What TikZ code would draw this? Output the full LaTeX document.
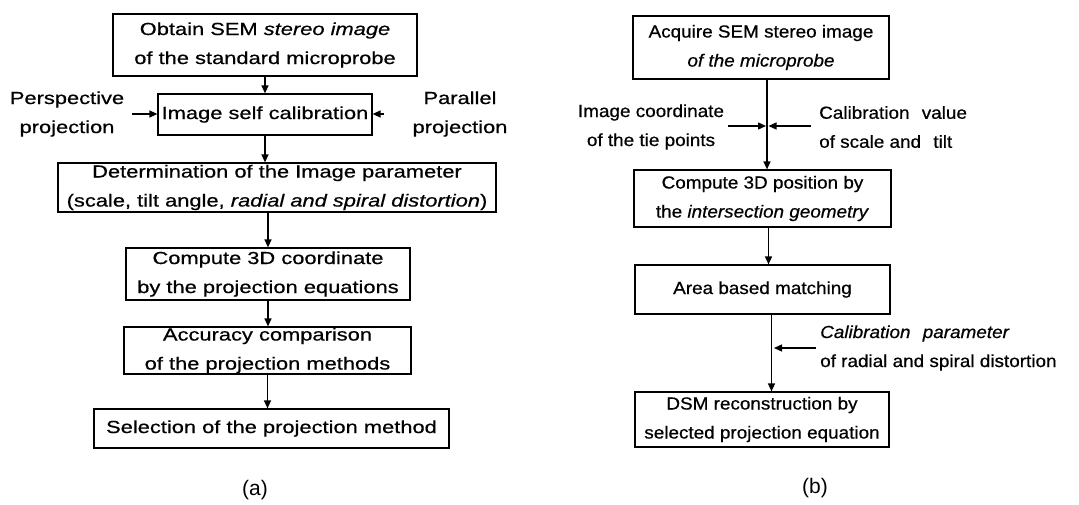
\documentclass[tikz,border=0pt]{standalone}
\usepackage{fontspec}
\setmainfont{Liberation Sans}[FakeStretch=1.25,FakeBold=0.6]
\newfontfamily\narrowfont{Liberation Sans}[FakeStretch=1.08,FakeBold=0.6]
\newfontfamily\captfont{Liberation Sans}
\usetikzlibrary{arrows.meta,calc}
\newcommand\boxfont{\fontsize{17.5}{29}\selectfont}
\newcommand\boxfontb{\narrowfont\fontsize{17.5}{29}\selectfont}
\begin{document}
\begin{tikzpicture}[x=1pt,y=-1pt,
  box/.style={draw,line width=1.2pt,inner sep=0pt,align=center,font=\boxfont},
  boxb/.style={box,font=\boxfontb},
  lbl/.style={inner sep=2pt,align=center,font=\boxfont},
  lblb/.style={inner sep=2pt,align=center,font=\boxfontb},
  lbll/.style={inner sep=2pt,align=left,anchor=west,font=\boxfontb},
  arr/.style={line width=1.3pt,-{Triangle[length=8pt,width=7pt]}},
  capt/.style={inner sep=0pt,font=\captfont\fontsize{21}{24}\selectfont}]
\useasboundingbox (0,0) rectangle (1079,505);
% ---------- panel (a)
\node[box,minimum width=304pt,minimum height=62pt] (A1) at (265,45)
  {Obtain SEM \textit{stereo image}\\of the standard microprobe};
\node[box,minimum width=214pt,minimum height=41pt] (A2) at (265,114.5)
  {Image self calibration};
\node[box,minimum width=438pt,minimum height=49pt] (A3) at (277,187.5)
  {Determination of the Image parameter\\(scale, tilt angle, \textit{radial and spiral distortion})};
\node[box,minimum width=284pt,minimum height=52pt] (A4) at (268,274)
  {Compute 3D coordinate\\by the projection equations};
\node[box,minimum width=287pt,minimum height=47pt] (A5) at (267.5,350.5)
  {Accuracy comparison\\of the projection methods};
\node[box,minimum width=355pt,minimum height=39pt] (A6) at (271.5,428.5)
  {Selection of the projection method};
\node[lbl] (P) at (67,114) {Perspective\\projection};
\node[lbl] (Q) at (460,114) {Parallel\\projection};
\draw[arr] (A1.south) -- (A2.north);
\draw[arr] (A2.south) -- (A2.south |- A3.north);
\draw[arr] (A4.north |- A3.south) -- (A4.north);
\draw[arr] (A4.south) -- (A4.south |- A5.north);
\draw[arr] (A5.south) -- (A5.south |- A6.north);
\draw[arr,shorten <=6pt] (P.east) -- (P.east -| A2.west);
\draw[arr,shorten <=26pt] (Q.west) -- (Q.west -| A2.east);
\node[capt] (ca) at (255,490) {(a)};
% ---------- panel (b)
\node[boxb,minimum width=256pt,minimum height=63pt] (B1) at (761,47.5)
  {Acquire SEM stereo image\\\textit{of the microprobe}};
\node[boxb,minimum width=257pt,minimum height=57pt] (B2) at (762.5,198.5)
  {Compute 3D position by\\the \textit{intersection geometry}};
\node[boxb,minimum width=255pt,minimum height=49pt] (B3) at (762.5,289.5)
  {Area based matching};
\node[boxb,minimum width=254pt,minimum height=55pt] (B4) at (762,419.5)
  {DSM reconstruction by\\selected projection equation};
\node[lblb] (L1) at (651,127) {Image coordinate\\of the tie points};
\node[lbll] (R1) at (817,127) {Calibration\hspace{0.4em} value\\of scale and\hspace{0.4em} tilt};
\node[lbll] (R2) at (818,348) {\textit{Calibration\hspace{0.4em} parameter}\\of radial and spiral distortion};
\coordinate (M1) at (767,126);
\coordinate (M2) at (771,348);
\draw[arr] ([xshift=6pt]B1.south) -- ([xshift=6pt]B1.south |- B2.north);
\draw[arr] ([xshift=6pt]B2.south) -- ([xshift=6pt]B2.south |- B3.north);
\draw[arr] ([xshift=9pt]B3.south) -- ([xshift=9pt]B3.south |- B4.north);
\draw[arr,shorten <=2pt,shorten >=1pt] (L1.east |- M1) -- (M1);
\draw[arr,shorten <=6pt,shorten >=1.5pt] (R1.west |- M1) -- (M1);
\draw[arr,shorten <=2pt,shorten >=3pt] (R2.west) -- (M2);
\node[capt] (cb) at (815,488) {(b)};
\end{tikzpicture}
\end{document}
